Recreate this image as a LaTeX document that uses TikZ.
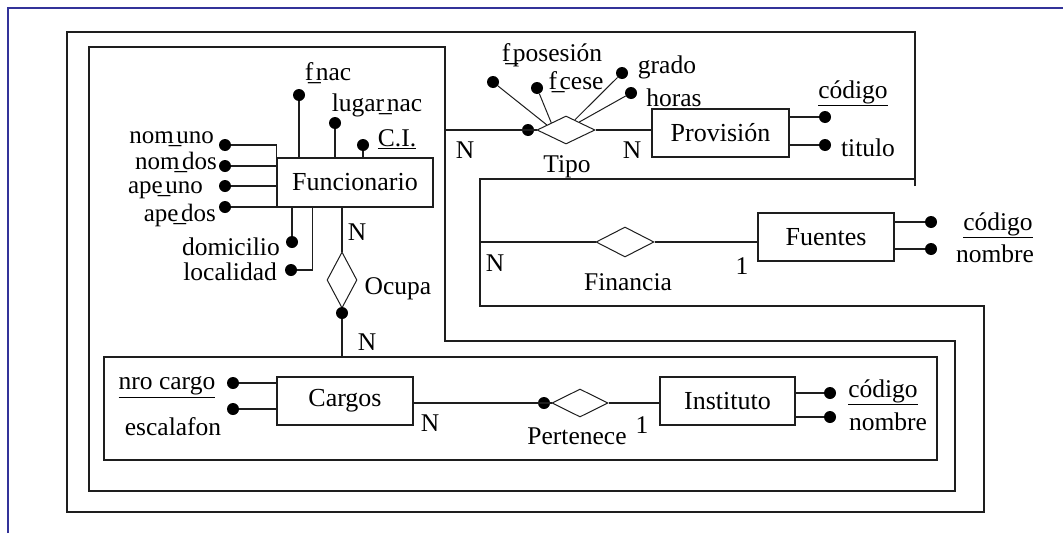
\documentclass[tikz,border=0pt]{standalone}
\usepackage{fontspec}
\setmainfont{Liberation Serif}
\usetikzlibrary{shapes.geometric,calc}
\definecolor{frameblue}{RGB}{51,51,153}
\definecolor{lncol}{RGB}{30,30,30}
\newcommand\us{\kern-0.2em\_\kern-0.2em}
\begin{document}
\begin{tikzpicture}[x=1pt,y=-1pt,
  ln/.style={line width=1.3pt, draw=lncol},
  thinln/.style={line width=1pt, draw=lncol},
  ent/.style={draw=lncol, line width=1.3pt, rectangle, inner sep=0pt, minimum width=#1, minimum height=48pt, font=\fontsize{26}{28}\selectfont},
  rel/.style={draw=lncol, line width=1pt, diamond, inner sep=0pt},
  dot/.style={circle, fill=black, inner sep=0pt, minimum size=12pt},
  lbl/.style={inner sep=0pt, font=\fontsize{25.5}{28}\selectfont}]
\useasboundingbox (0,0) rectangle (1063,533);
\fill[white] (0,0) rectangle (1063,533);
% frame
\draw[line width=2.5pt, frameblue] (8,533) -- (8,8) -- (1063,8);
% aggregations
\draw[ln] (915,186) -- (915,32) -- (67,32) -- (67,512) -- (984,512) -- (984,306) -- (480,306) -- (480,179) -- (915,179);
\draw[ln] (89,47) -- (445,47) -- (445,341) -- (955,341) -- (955,491) -- (89,491) -- cycle;
\node[draw=lncol, line width=1.3pt, rectangle, inner sep=0pt, minimum width=833pt, minimum height=103pt] (agA) at (520.5,408.5) {};
\coordinate (bR) at (445,130);
\coordinate (cL) at (480,242);

% entities
\node[ent=156pt, minimum height=49pt] (func) at (355,182.5) {Funcionario};
\node[ent=137pt] (prov) at (720.5,133) {Provisión};
\node[ent=136pt] (fue) at (826,237) {Fuentes};
\node[ent=136pt] (cargos) at (345,401) {Cargos};
\node[ent=135pt] (inst) at (727.5,401) {Instituto};

% relationships
\node[rel, minimum width=58pt, minimum height=28pt] (tipo) at (566,130) {};
\node[rel, minimum width=30pt, minimum height=56pt] (ocupa) at (342,280) {};
\node[rel, minimum width=58pt, minimum height=30pt] (fin) at (625,242) {};
\node[rel, minimum width=56pt, minimum height=28pt] (pert) at (580,403) {};

% dots
\node[dot] (fnac) at (299,95) {};
\node[dot] (lugar) at (335,123) {};
\node[dot] (ci) at (363,145) {};
\node[dot] (nu) at (225,145) {};
\node[dot] (nd) at (225,166) {};
\node[dot] (au) at (225,186) {};
\node[dot] (ad) at (225,207) {};
\node[dot] (dom) at (292,242) {};
\node[dot] (loc) at (291,270) {};
\node[dot] (odot) at (342,313) {};
\node[dot] (tdot) at (528,130) {};
\node[dot] (fpos) at (493,82) {};
\node[dot] (fces) at (537,88) {};
\node[dot] (grad) at (622,73) {};
\node[dot] (hor) at (631,93) {};
\node[dot] (pc) at (825,117) {};
\node[dot] (pt) at (825,145) {};
\node[dot] (fc) at (931,222) {};
\node[dot] (fn) at (931,249) {};
\node[dot] (nc) at (233,383) {};
\node[dot] (es) at (233,409) {};
\node[dot] (pdot) at (544,403) {};
\node[dot] (ic) at (830,393) {};
\node[dot] (inom) at (830,417) {};
\coordinate (locx) at ($(func.south west)+(36,0)$);

% connectors: Funcionario
\draw[ln] (fnac) -- (fnac |- func.north);
\draw[ln] (lugar) -- (lugar |- func.north);
\draw[ln] (ci) -- (ci |- func.north);
\draw[ln] (nu) -- (nu -| func.west) -- (func.north west);
\draw[ln] (nd) -- (nd -| func.west);
\draw[ln] (au) -- (au -| func.west);
\draw[ln] (ad) -- (ad -| func.west);
\draw[ln] (dom) -- (dom |- func.south);
\draw[ln] (loc) -- (loc -| locx) -- (locx);
% Ocupa
\draw[ln] (ocupa.north |- func.south) -- (ocupa.north);
\draw[ln] (odot) -- (odot |- agA.north);
% Tipo
\draw[ln] (bR) -- (tipo.west);
\draw[ln] (tipo.east) -- (tipo.east -| prov.west);
\draw[thinln] (fpos) -- ($(tipo.west)!0.35!(tipo.north)$);
\draw[thinln] (fces) -- ($(tipo.west)!0.5!(tipo.north)$);
\draw[thinln] (grad) -- ($(tipo.north)!0.3!(tipo.east)$);
\draw[thinln] (hor) -- ($(tipo.north)!0.45!(tipo.east)$);
% Provision
\draw[ln] (pc -| prov.east) -- (pc);
\draw[ln] (pt -| prov.east) -- (pt);
% Financia
\draw[ln] (cL) -- (fin.west);
\draw[ln] (fin.east) -- (fin.east -| fue.west);
\draw[ln] (fc -| fue.east) -- (fc);
\draw[ln] (fn -| fue.east) -- (fn);
% Cargos / Pertenece / Instituto
\draw[ln] (nc) -- (nc -| cargos.west);
\draw[ln] (es) -- (es -| cargos.west);
\draw[ln] (pert.west -| cargos.east) -- (pert.west);
\draw[ln] (pert.east) -- (pert.east -| inst.west);
\draw[ln] (ic -| inst.east) -- (ic);
\draw[ln] (inom -| inst.east) -- (inom);

% labels
\node[lbl] (tfnac) at (328,73) {f\us nac};
\node[lbl] (tlugar) at (377,105) {lugar\us nac};
\node[lbl] (tci) at (397,139) {\underline{C.I.}};
\node[lbl, anchor=east, font=\fontsize{25}{28}\selectfont] (tnu) at (214,139) {nom\us uno};
\node[lbl, anchor=east, font=\fontsize{25}{28}\selectfont] (tnd) at (217,162) {nom\us dos};
\node[lbl, anchor=east, font=\fontsize{25}{28}\selectfont] (tau) at (203,190) {ape\us uno};
\node[lbl, anchor=east, font=\fontsize{25}{28}\selectfont] (tad) at (216,215) {ape\us dos};
\node[lbl, anchor=east] (tdom) at (280,247) {domicilio};
\node[lbl, anchor=east] (tloc) at (277,272) {localidad};
\node[lbl] (tocupa) at (398,289) {Ocupa};
\node[lbl] (n1) at (357,232) {N};
\node[lbl] (n2) at (367,342) {N};
\node[lbl] (tnc) at (167,387) {\underline{nro cargo}};
\node[lbl] (tes) at (173,427) {escalafon};
\node[lbl] (n3) at (430,423) {N};
\node[lbl] (tpert) at (577,436) {Pertenece};
\node[lbl] (o1) at (642,425) {1};
\node[lbl] (tic) at (883,392) {\underline{código}};
\node[lbl] (tinom) at (888,422) {nombre};
\node[lbl] (tfpos) at (552,55) {f\us posesión};
\node[lbl] (tfces) at (576,82) {f\us cese};
\node[lbl] (tgrad) at (667,67) {grado};
\node[lbl] (thor) at (674,98) {horas};
\node[lbl] (n4) at (465,150) {N};
\node[lbl] (n5) at (632,150) {N};
\node[lbl] (ttipo) at (567,167) {Tipo};
\node[lbl] (tpc) at (853,93) {\underline{código}};
\node[lbl] (tpt) at (868,148) {titulo};
\node[lbl] (n6) at (495,263) {N};
\node[lbl] (tfin) at (628,282) {Financia};
\node[lbl] (o2) at (742,266) {1};
\node[lbl] (tfc) at (998,225) {\underline{código}};
\node[lbl] (tfn) at (995,254) {nombre};
\end{tikzpicture}
\end{document}
